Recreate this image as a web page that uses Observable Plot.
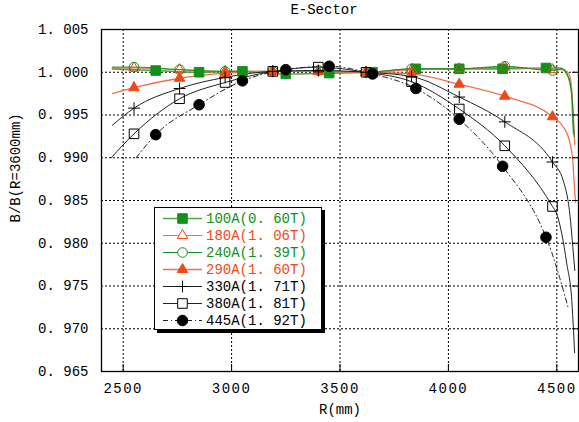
<!DOCTYPE html>
<html>
<head>
<meta charset="utf-8">
<script src="https://cdn.jsdelivr.net/npm/d3@7"></script>
<script src="https://cdn.jsdelivr.net/npm/@observablehq/plot@0.6"></script>
<style>
  html,body{margin:0;padding:0;background:#fff;}
  #wrap{position:relative;width:579px;height:422px;overflow:hidden;font-family:"Liberation Mono","DejaVu Sans Mono",monospace;color:#000;}
  #title{height:20px;line-height:20px;font-size:14px;text-align:center;padding-left:69px;box-sizing:border-box;width:579px;}
  #legend{position:absolute;left:154px;top:207px;width:166px;height:119px;border:1px solid #000;box-shadow:3px 3px 0 #000;background:#fff;padding-top:2px;}
  .row{height:17px;display:flex;align-items:center;font-size:14px;white-space:nowrap;}
  .row svg{flex:none;}
  .row span{margin-left:1px;}
  g[aria-label="x-axis tick label"] text{letter-spacing:1.5px;}
</style>
</head>
<body>
<div id="wrap"><div id="title">E-Sector</div><div id="chart"></div><div id="legend"></div></div>
<script>
// ---- tick values ----
const xTicks = [2500, 3000, 3500, 4000, 4500];
const yTicks = [0.965, 0.970, 0.975, 0.980, 0.985, 0.990, 0.995, 1.000, 1.005];

// ---- series names ----
const seriesNames = ["100A(0. 60T)", "180A(1. 06T)", "240A(1. 39T)", "290A(1. 60T)", "330A(1. 71T)", "380A(1. 81T)", "445A(1. 92T)"];

// ---- marker positions (R, mm) ----
const markerRA = [2550, 2760, 2970, 3190, 3400, 3620, 3830, 4050, 4260, 4480];
const markerRB = [2650, 2850, 3050, 3250, 3450, 3650, 3850, 4050, 4250, 4450];

// ---- marker values B/B(R=3600) ----
const v100 = [1.0002, 1.0000, 1.0001, 0.9998, 0.9999, 1.0000, 1.0004, 1.0004, 1.0004, 1.0005];
const v180 = [1.0005, 1.0003, 1.0001, 1.0001, 1.0001, 1.0000, 1.0003, 1.0004, 1.0006, 1.0003];
const v240 = [1.0006, 1.0003, 1.0001, 1.0001, 1.0002, 1.0000, 1.0004, 1.0004, 1.0007, 1.0002];
const v290 = [0.9982, 0.9993, 0.9999, 1.0001, 1.0001, 1.0000, 0.9998, 0.9986, 0.9972, 0.9948];
const v330 = [0.9958, 0.9981, 0.9994, 1.0001, 1.0002, 1.0000, 0.9995, 0.9971, 0.9942, 0.9895];
const v380 = [0.9928, 0.9969, 0.9988, 1.0001, 1.0006, 1.0000, 0.9989, 0.9957, 0.9914, 0.9843];
const v445 = [0.9927, 0.9962, 0.9990, 1.0003, 1.0007, 0.9998, 0.9981, 0.9945, 0.9890, 0.9807];

// ---- curve start points ----
const startR = [2450, 2450, 2450, 2450, 2450, 2445, 2560];
const startV = [1.0004, 1.0005, 1.0006, 0.9975, 0.9938, 0.9900, 0.9900];

// ---- curve tails near the pole edge ----
const tailR100 = [4515, 4546, 4561, 4569, 4573, 4577];
const tailV100 = [1.0005, 0.9998, 0.9988, 0.9973, 0.9949, 0.9928];
const tailR180 = [4530, 4556, 4567, 4574, 4579, 4583];
const tailV180 = [1.0003, 0.9998, 0.9985, 0.9960, 0.9935, 0.9915];
const tailR240 = [4525, 4550, 4563, 4571, 4576, 4580];
const tailV240 = [1.0004, 0.9996, 0.9984, 0.9968, 0.9945, 0.9925];
const tailR290 = [4530, 4560, 4574, 4581, 4586];
const tailV290 = [0.9936, 0.9918, 0.9895, 0.9867, 0.9848];
const tailR330 = [4530, 4560, 4574, 4583];
const tailV330 = [0.9873, 0.9834, 0.9795, 0.9768];
const tailR380 = [4500, 4523, 4546, 4569, 4577, 4582];
const tailV380 = [0.9834, 0.9811, 0.9776, 0.9733, 0.9698, 0.9672];
const tailR445 = [4477, 4508, 4531, 4554];
const tailV445 = [0.9789, 0.9764, 0.9744, 0.9723];

// ---- styles ----
const GREEN = "#12901a", GREEN_LINE = "#45a845", ORANGE = "#f04818", ORANGE_LINE = "#f07050", BLACK = "#000", BLACK_LINE = "#222";
const seriesColor = [GREEN, ORANGE, GREEN, ORANGE, BLACK, BLACK, BLACK];
const lineColor = [GREEN_LINE, ORANGE_LINE, GREEN, ORANGE_LINE, BLACK_LINE, BLACK_LINE, BLACK_LINE];
const lineWidth = [1.6, 1.2, 1.0, 1.3, 1.0, 1.0, 1.0];
const lineDash = [null, null, null, null, null, null, "5,3,1,3"];
const symbolName = ["square", "triangle", "circle", "triangle", "plus", "square", "circle"];
const symbolFilled = [true, false, false, true, false, false, true];
const symbolR = [5.4, 3.9, 4.8, 3.9, 3.9, 5.4, 5.3];

const markerValues = [v100, v180, v240, v290, v330, v380, v445];
const markerPositions = [markerRB, markerRA, markerRA, markerRA, markerRA, markerRA, markerRB];
const tailsR = [tailR100, tailR180, tailR240, tailR290, tailR330, tailR380, tailR445];
const tailsV = [tailV100, tailV180, tailV240, tailV290, tailV330, tailV380, tailV445];

const series = seriesNames.map((name, i) => {
  const markers = markerPositions[i].map((R, j) => ({R, v: markerValues[i][j], name}));
  const tail = tailsR[i].map((R, j) => ({R, v: tailsV[i][j], name}));
  const line = [{R: startR[i], v: startV[i], name}, ...markers, ...tail].sort((a, b) => a.R - b.R);
  return {name, markers, line, i};
});

const yFmt = d => d.toFixed(3).replace(".", ". ");

const marks = [
  Plot.ruleX(xTicks, {stroke: "#000", strokeWidth: 1, strokeDasharray: "2,2"}),
  Plot.ruleY(yTicks, {stroke: "#000", strokeWidth: 1, strokeDasharray: "2,2"})
];
for (const s of series) {
  marks.push(Plot.line(s.line, {x: "R", y: "v", curve: "monotone-x", stroke: lineColor[s.i], strokeWidth: lineWidth[s.i], strokeDasharray: lineDash[s.i]}));
}
for (const s of series) {
  marks.push(Plot.dot(s.markers, {
    x: "R", y: "v", symbol: symbolName[s.i], r: symbolR[s.i],
    fill: symbolFilled[s.i] ? seriesColor[s.i] : "none",
    stroke: seriesColor[s.i], strokeWidth: 1
  }));
}
marks.push(
  Plot.frame({stroke: "#000", strokeWidth: 1.3}),
  Plot.axisX(xTicks, {tickSize: 0, tickPadding: 12, label: null, tickFormat: d => String(d)}),
  Plot.axisX(xTicks, {tickSize: -7, tickFormat: () => "", label: null}),
  Plot.axisY(yTicks, {tickSize: 0, tickPadding: 13, label: null, tickFormat: yFmt}),
  Plot.axisY(yTicks, {anchor: "right", tickSize: -7, tickFormat: () => "", label: null}),
  Plot.text(["R(mm)"], {frameAnchor: "bottom", dy: 42, text: d => d}),
  Plot.text(["B/B(R=3600mm)"], {frameAnchor: "left", dx: -86, dy: 22, rotate: -90, text: d => d})
);

const chart = Plot.plot({
  width: 579, height: 402,
  marginTop: 9, marginBottom: 51, marginLeft: 101, marginRight: 1,
  style: {fontFamily: "'Liberation Mono', 'DejaVu Sans Mono', monospace", fontSize: "14px", background: "#fff", color: "#000", overflow: "visible"},
  x: {domain: [2400, 4600]},
  y: {domain: [0.965, 1.005]},
  marks
});
document.getElementById("chart").appendChild(chart);

// ---- legend ----
const legend = d3.select("#legend");
for (const s of series) {
  const row = legend.append("div").attr("class", "row");
  const svg = row.append("svg").attr("width", 50).attr("height", 17);
  svg.append("line").attr("x1", 8).attr("x2", 47).attr("y1", 8.5).attr("y2", 8.5)
    .attr("stroke", lineColor[s.i]).attr("stroke-width", lineWidth[s.i])
    .attr("stroke-dasharray", lineDash[s.i]);
  const symType = {square: d3.symbolSquare, triangle: d3.symbolTriangle, circle: d3.symbolCircle, plus: d3.symbolPlus}[symbolName[s.i]];
  svg.append("path").attr("transform", "translate(27.5,8.5)")
    .attr("d", d3.symbol(symType, Math.PI * symbolR[s.i] ** 2)())
    .attr("fill", symbolFilled[s.i] ? seriesColor[s.i] : "white")
    .attr("stroke", seriesColor[s.i]).attr("stroke-width", 1);
  row.append("span").style("color", seriesColor[s.i] === BLACK ? "#000" : seriesColor[s.i]).text(s.name);
}
</script>
</body>
</html>
